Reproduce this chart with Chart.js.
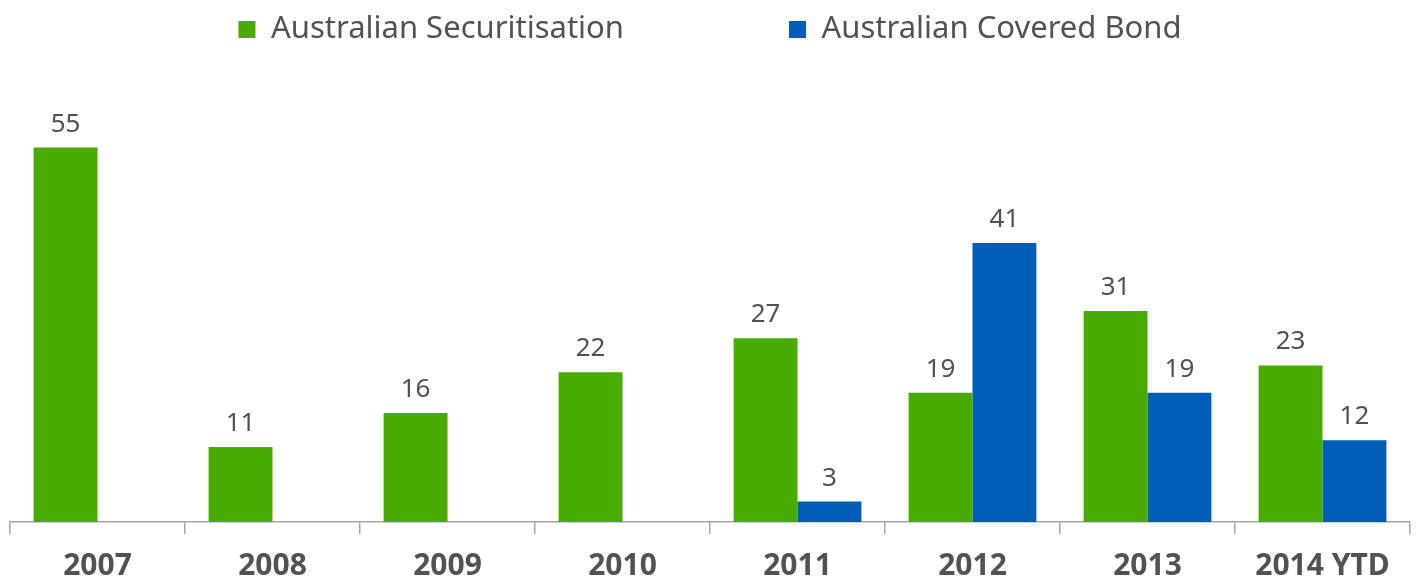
<!DOCTYPE html>
<html>
<head>
<meta charset="utf-8">
<script src="https://cdn.jsdelivr.net/npm/chart.js@4"></script>
<style>
  html, body { margin: 0; padding: 0; background: #fff; }
  #wrap { width: 1416px; height: 582px; position: relative; }
</style>
</head>
<body>
<div id="wrap"><canvas id="myChart"></canvas></div>
<script>
const categories = ['2007', '2008', '2009', '2010', '2011', '2012', '2013', '2014 YTD'];
const securitisation = [55, 11, 16, 22, 27, 19, 31, 23];
const coveredBond = [null, null, null, null, 3, 41, 19, 12];

const GREEN = '#47ab00';
const BLUE = '#005eb8';
const TEXT = '#525252';
const FONT = "'Noto Sans', sans-serif";

// valeurs au-dessus des barres
const barLabels = {
  id: 'barLabels',
  afterDatasetsDraw(chart) {
    const ctx = chart.ctx;
    ctx.save();
    ctx.font = '26px ' + FONT;
    ctx.fillStyle = TEXT;
    ctx.textAlign = 'center';
    ctx.textBaseline = 'alphabetic';
    chart.data.datasets.forEach((ds, i) => {
      chart.getDatasetMeta(i).data.forEach((bar, j) => {
        const v = ds.data[j];
        if (v === null || v === undefined) return;
        ctx.fillText(String(v), bar.x, bar.y - 16);
      });
    });
    ctx.restore();
  }
};

const setup = () => {
  const ctxt = document.getElementById('myChart').getContext('2d');
  new Chart(ctxt, {
    type: 'bar',
    data: {
      labels: categories,
      datasets: [
        { label: 'Australian Securitisation', data: securitisation, backgroundColor: GREEN },
        { label: 'Australian Covered Bond', data: coveredBond, backgroundColor: BLUE }
      ]
    },
    options: {
      responsive: true,
      maintainAspectRatio: false,
      animation: false,
      layout: { padding: { left: 10, right: 6, top: 4, bottom: -16 } },
      categoryPercentage: 0.73,
      barPercentage: 1.0,
      plugins: {
        legend: {
          position: 'top',
          labels: {
            boxWidth: 17,
            boxHeight: 17,
            padding: 10,
            color: TEXT,
            font: { family: FONT, size: 31 },
            // espace entre les deux entrées de la légende
            generateLabels(chart) {
              const items = Chart.defaults.plugins.legend.labels.generateLabels(chart);
              items.forEach((it, i) => {
                if (i < items.length - 1) it.text += '\u2003\u2003\u2003\u2003\u2003';
              });
              return items;
            }
          }
        },
        tooltip: { enabled: false }
      },
      scales: {
        x: {
          grid: {
            offset: true,
            drawOnChartArea: false,
            tickLength: 12,
            color: '#a6a6a6',
            lineWidth: 1.5
          },
          border: { color: '#a6a6a6', width: 1.5 },
          ticks: {
            color: TEXT,
            padding: 14,
            font: { family: FONT, size: 30, weight: 'bold' }
          }
        },
        y: {
          display: false,
          min: 0,
          max: 68.6
        }
      }
    },
    plugins: [barLabels]
  });
};

window.addEventListener('DOMContentLoaded', setup);
</script>
</body>
</html>
